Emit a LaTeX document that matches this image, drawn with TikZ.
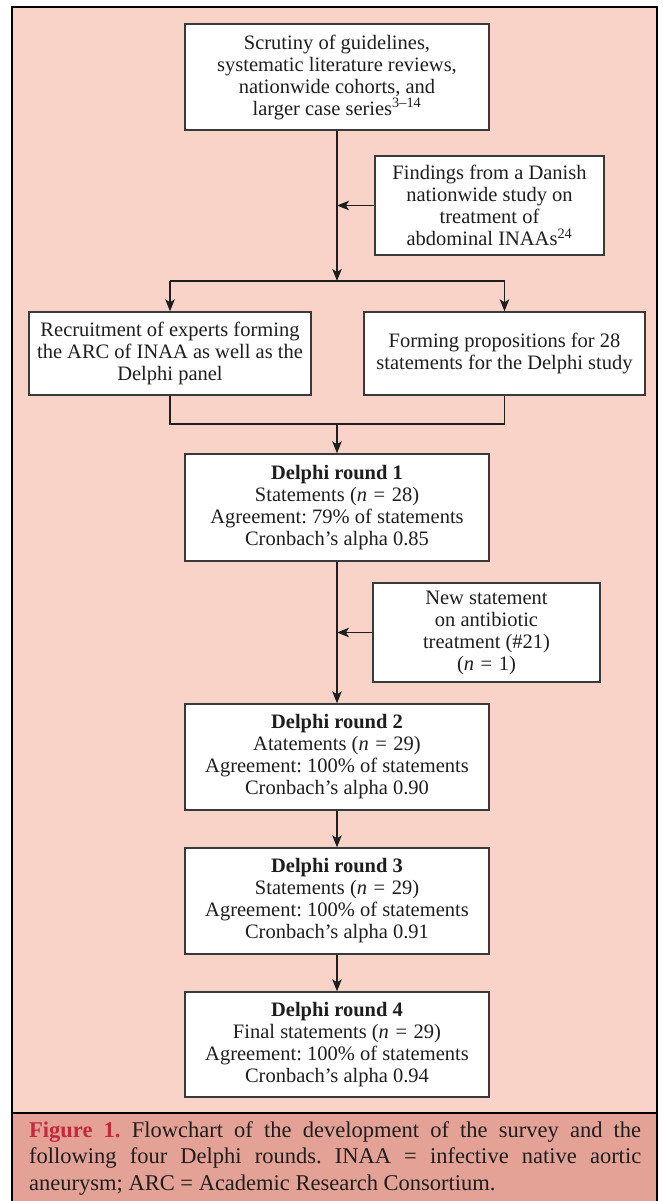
\documentclass[tikz,border=0pt]{standalone}
\usepackage{fontspec}
\setmainfont{Liberation Serif}
\usetikzlibrary{arrows.meta}
\definecolor{bgpink}{HTML}{F9D2C8}
\definecolor{cappink}{HTML}{E4A195}
\definecolor{figred}{HTML}{C4283E}
\definecolor{boxline}{HTML}{3A3A3A}
\definecolor{txt}{HTML}{1E1E1E}
\newcommand{\myeq}{\hspace{0.32em}=\hspace{0.32em}}
\frenchspacing
\begin{document}
\begin{tikzpicture}[x=1pt,y=-1pt,
  box/.style={draw=boxline, line width=1.4pt, fill=white, align=center, inner sep=0pt,
    text=txt, font=\fontsize{20.5}{22}\selectfont},
  arr/.style={draw=txt, line width=1.4pt, -{Stealth[length=12pt,width=9.5pt,inset=3pt]}},
  ln/.style={draw=txt, line width=1.4pt}]
\useasboundingbox (0,0) rectangle (662,1201);
% frame and caption band
\fill[bgpink] (12,7) rectangle (657,1113);
\fill[cappink] (12,1113) rectangle (657,1204);
\draw[black, line width=1.8pt] (12,1204) -- (12,7) -- (657,7) -- (657,1204);
\draw[black, line width=1.4pt] (12,1113) -- (657,1113);
% nodes
\node[box, minimum width=304pt, minimum height=106pt] (top) at (337,77)
  {Scrutiny of guidelines,\\ systematic literature reviews,\\ nationwide cohorts, and\\ larger case series\textsuperscript{3–14}};
\node[box, minimum width=229pt, minimum height=99pt] (find) at (489.5,205.5)
  {Findings from a Danish\\ nationwide study on\\ treatment of\\ abdominal INAAs\textsuperscript{24}};
\node[box, minimum width=282pt, minimum height=83pt] (left) at (170,353.5)
  {Recruitment of experts forming\\ the ARC of INAA as well as the\\ Delphi panel};
\node[box, minimum width=281pt, minimum height=83pt] (right) at (504.5,353.5)
  {Forming propositions for 28\\ statements for the Delphi study};
\node[box, minimum width=304pt, minimum height=107pt] (d1) at (337,507.5)
  {\textbf{Delphi round 1}\\ Statements (\textit{n}\myeq28)\\ Agreement: 79\% of statements\\ Cronbach’s alpha 0.85};
\node[box, minimum width=227pt, minimum height=99pt] (new) at (486.5,632.5)
  {New statement\\ on antibiotic\\ treatment (\#21)\\ (\textit{n}\myeq1)};
\node[box, minimum width=304pt, minimum height=106pt] (d2) at (337,757)
  {\textbf{Delphi round 2}\\ Atatements (\textit{n}\myeq29)\\ Agreement: 100\% of statements\\ Cronbach’s alpha 0.90};
\node[box, minimum width=304pt, minimum height=106pt] (d3) at (337,901)
  {\textbf{Delphi round 3}\\ Statements (\textit{n}\myeq29)\\ Agreement: 100\% of statements\\ Cronbach’s alpha 0.91};
\node[box, minimum width=304pt, minimum height=105pt] (d4) at (337,1044.5)
  {\textbf{Delphi round 4}\\ Final statements (\textit{n}\myeq29)\\ Agreement: 100\% of statements\\ Cronbach’s alpha 0.94};
% coordinates
\coordinate (sp) at (337,281);
\coordinate (mg) at (337,424);
% connectors
\draw[arr] (top.south) -- (sp);
\draw[arr] (find.west) -- (find.west -| top.south);
\draw[ln] (left.north |- sp) -- (right.north |- sp);
\draw[arr] (left.north |- sp) -- (left.north);
\draw[arr] (right.north |- sp) -- (right.north);
\draw[ln] (left.south) -- (left.south |- mg) -- (right.south |- mg) -- (right.south);
\draw[arr] (mg) -- (d1.north);
\draw[arr] (d1.south) -- (d2.north);
\draw[arr] (new.west) -- (new.west -| d1.south);
\draw[arr] (d2.south) -- (d3.north);
\draw[arr] (d3.south) -- (d4.north);
% caption
\node[anchor=north west, text width=612pt, align=justify, inner sep=0pt, text=txt,
  font=\fontsize{22.5}{26.5}\selectfont] (cap) at (29,1121)
  {\tolerance=10000 {\color{figred}\textbf{Figure 1.}} Flowchart of the development of the survey and the\linebreak
   following four Delphi rounds. INAA = infective native aortic\linebreak
   aneurysm; ARC = Academic Research Consortium.};
\end{tikzpicture}
\end{document}
